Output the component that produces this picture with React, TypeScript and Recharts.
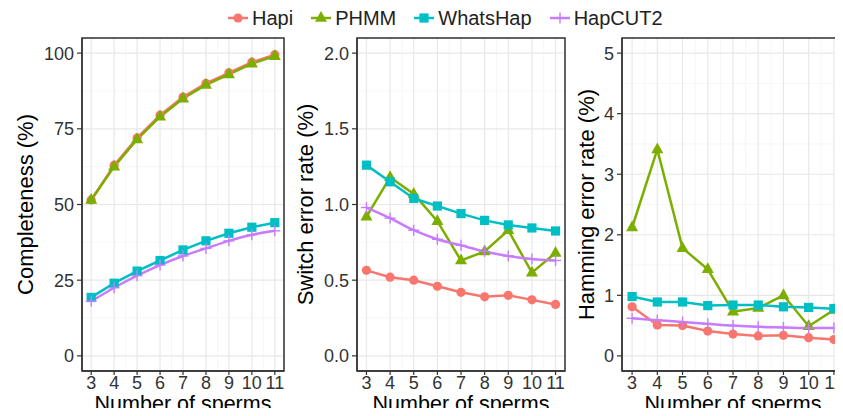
import React from "react"
import {
  LineChart,
  Line,
  XAxis,
  YAxis,
  CartesianGrid,
  ReferenceArea,
  Label
} from "recharts"

// number of sperms
const sperms = [3, 4, 5, 6, 7, 8, 9, 10, 11]
const minorX = [3.5, 4.5, 5.5, 6.5, 7.5, 8.5, 9.5, 10.5]

// completeness (%)
const compHapi = [51.5, 63, 72, 79.5, 85.5, 90, 93.5, 97, 99.5]
const compPhmm = [51.5, 62.5, 71.5, 79, 85, 89.5, 93, 96.5, 99]
const compWhatsHap = [19.3, 24, 28, 31.5, 35, 38, 40.5, 42.5, 44]
const compHapCut2 = [18, 22.5, 26.5, 30, 33, 35.5, 38, 40, 41.3]

// switch error rate (%)
const swHapi = [0.565, 0.52, 0.5, 0.46, 0.42, 0.39, 0.4, 0.37, 0.34]
const swPhmm = [0.92, 1.18, 1.07, 0.89, 0.63, 0.69, 0.83, 0.55, 0.68]
const swWhatsHap = [1.26, 1.15, 1.04, 0.99, 0.94, 0.895, 0.865, 0.845, 0.825]
const swHapCut2 = [0.98, 0.91, 0.83, 0.77, 0.73, 0.69, 0.66, 0.64, 0.63]

// hamming error rate (%)
const hamHapi = [0.81, 0.51, 0.5, 0.41, 0.36, 0.33, 0.34, 0.3, 0.27]
const hamPhmm = [2.12, 3.41, 1.78, 1.43, 0.73, 0.79, 1.0, 0.49, 0.76]
const hamWhatsHap = [0.98, 0.89, 0.89, 0.83, 0.84, 0.84, 0.81, 0.8, 0.78]
const hamHapCut2 = [0.62, 0.59, 0.56, 0.53, 0.5, 0.48, 0.47, 0.46, 0.46]

const COLORS = {
  hapi: "#F8766D",
  phmm: "#7CAE00",
  whatshap: "#00BFC4",
  hapcut2: "#C77CFF"
}

const FONT = "'Liberation Sans', Arial, sans-serif"

function rows(a: number[], b: number[], c: number[], d: number[]) {
  return sperms.map((n, i) => ({ n, hapi: a[i], phmm: b[i], whatshap: c[i], hapcut2: d[i] }))
}

const circleDot = (p: any) =>
  p.cx == null ? null : <circle key={p.index} cx={p.cx} cy={p.cy} r={4.6} fill={COLORS.hapi} />

const triangleDot = (p: any) => {
  if (p.cx == null) return null
  const s = 12
  const d = `M${p.cx},${p.cy - s * 0.58} L${p.cx - s / 2},${p.cy + s * 0.32} L${p.cx + s / 2},${p.cy + s * 0.32} Z`
  return <path key={p.index} d={d} fill={COLORS.phmm} />
}

const squareDot = (p: any) =>
  p.cx == null ? null : (
    <rect key={p.index} x={p.cx - 4.6} y={p.cy - 4.6} width={9.2} height={9.2} fill={COLORS.whatshap} />
  )

const plusDot = (p: any) =>
  p.cx == null ? null : (
    <g key={p.index} stroke={COLORS.hapcut2} strokeWidth={1.4}>
      <line x1={p.cx - 5.5} y1={p.cy} x2={p.cx + 5.5} y2={p.cy} />
      <line x1={p.cx} y1={p.cy - 5.5} x2={p.cx} y2={p.cy + 5.5} />
    </g>
  )

type PanelProps = {
  left: number
  width: number
  axisWidth: number
  marginRight: number
  titleOffset: number
  data: any[]
  yDomain: [number, number]
  yTicks: number[]
  yMinor: number[]
  yTitle: string
  fmt?: (v: number) => string
}

function Panel(props: PanelProps) {
  const { left, width, axisWidth, marginRight, titleOffset, data, yDomain, yTicks, yMinor, yTitle, fmt } = props
  return (
    <div style={{ position: "absolute", left, top: 0 }}>
      <LineChart width={width} height={416} data={data} margin={{ top: 38, right: marginRight, bottom: 0, left: 0 }}>
        <CartesianGrid xAxisId="minor" yAxisId="minor" stroke="#f4f4f4" strokeWidth={0.8} />
        <CartesianGrid stroke="#e8e8e8" strokeWidth={1.2} />
        <XAxis xAxisId="minor" type="number" dataKey="n" domain={[2.6, 11.4]} ticks={minorX} hide allowDataOverflow />
        <YAxis yAxisId="minor" type="number" domain={yDomain} ticks={yMinor} hide allowDataOverflow />
        <XAxis
          type="number"
          dataKey="n"
          domain={[2.6, 11.4]}
          ticks={sperms}
          interval={0}
          allowDataOverflow
          height={45}
          tickSize={4}
          tickMargin={1}
          axisLine={{ stroke: "#333", strokeWidth: 1.3 }}
          tickLine={{ stroke: "#333", strokeWidth: 1.2 }}
          tick={{ fill: "#333", fontSize: 18, fontFamily: FONT }}
        >
          <Label value="Number of sperms" position="insideBottom" offset={5} fill="#000" fontSize={21.5} fontFamily={FONT} />
        </XAxis>
        <YAxis
          type="number"
          domain={yDomain}
          ticks={yTicks}
          interval={0}
          allowDataOverflow
          width={axisWidth}
          tickSize={5}
          tickMargin={3}
          tickFormatter={fmt}
          axisLine={{ stroke: "#333", strokeWidth: 1.3 }}
          tickLine={{ stroke: "#333", strokeWidth: 1.2 }}
          tick={{ fill: "#333", fontSize: 18, fontFamily: FONT }}
        >
          <Label
            value={yTitle}
            angle={-90}
            position="insideLeft"
            offset={titleOffset}
            fill="#000"
            fontSize={22}
            fontFamily={FONT}
            style={{ textAnchor: "middle" }}
          />
        </YAxis>
        <ReferenceArea x1={2.6} x2={11.4} y1={yDomain[0]} y2={yDomain[1]} fill="none" stroke="#333" strokeWidth={1.5} />
        <Line dataKey="hapi" stroke={COLORS.hapi} strokeWidth={2.5} dot={circleDot} isAnimationActive={false} />
        <Line dataKey="phmm" stroke={COLORS.phmm} strokeWidth={2.5} dot={triangleDot} isAnimationActive={false} />
        <Line dataKey="whatshap" stroke={COLORS.whatshap} strokeWidth={2.5} dot={squareDot} isAnimationActive={false} />
        <Line
          dataKey="hapcut2"
          type="monotone"
          stroke={COLORS.hapcut2}
          strokeWidth={2.5}
          dot={plusDot}
          isAnimationActive={false}
        />
      </LineChart>
    </div>
  )
}

const legendItems = [
  { name: "Hapi", color: COLORS.hapi, kind: "circle" },
  { name: "PHMM", color: COLORS.phmm, kind: "triangle" },
  { name: "WhatsHap", color: COLORS.whatshap, kind: "square" },
  { name: "HapCUT2", color: COLORS.hapcut2, kind: "plus" }
]

function LegendKey({ color, kind }: { color: string; kind: string }) {
  return (
    <svg width={20} height={16} style={{ display: "block" }}>
      <line x1={0} y1={8} x2={20} y2={8} stroke={color} strokeWidth={2.5} />
      {kind === "circle" && <circle cx={10} cy={8} r={4.6} fill={color} />}
      {kind === "triangle" && <path d="M10,1 L4,11.8 L16,11.8 Z" fill={color} />}
      {kind === "square" && <rect x={5.4} y={3.4} width={9.2} height={9.2} fill={color} />}
      {kind === "plus" && <line x1={10} y1={2.5} x2={10} y2={13.5} stroke={color} strokeWidth={1.4} />}
    </svg>
  )
}

export default function App() {
  return (
    <div
      style={{
        position: "relative",
        width: 843,
        height: 416,
        margin: -8,
        overflow: "hidden",
        background: "#fff",
        fontFamily: FONT
      }}
    >
      <Panel
        left={0}
        width={290}
        axisWidth={82}
        marginRight={6}
        titleOffset={25}
        data={rows(compHapi, compPhmm, compWhatsHap, compHapCut2)}
        yDomain={[-5, 105]}
        yTicks={[0, 25, 50, 75, 100]}
        yMinor={[12.5, 37.5, 62.5, 87.5]}
        yTitle="Completeness (%)"
      />
      <Panel
        left={284}
        width={290}
        axisWidth={73}
        marginRight={9}
        titleOffset={21}
        data={rows(swHapi, swPhmm, swWhatsHap, swHapCut2)}
        yDomain={[-0.1, 2.1]}
        yTicks={[0, 0.5, 1, 1.5, 2]}
        yMinor={[0.25, 0.75, 1.25, 1.75]}
        yTitle="Switch error rate (%)"
        fmt={(v) => v.toFixed(1)}
      />
      <Panel
        left={565}
        width={290}
        axisWidth={57}
        marginRight={11}
        titleOffset={21}
        data={rows(hamHapi, hamPhmm, hamWhatsHap, hamHapCut2)}
        yDomain={[-0.25, 5.25]}
        yTicks={[0, 1, 2, 3, 4, 5]}
        yMinor={[0.5, 1.5, 2.5, 3.5, 4.5]}
        yTitle="Hamming error rate (%)"
      />
      <div style={{ position: "absolute", top: 6, left: 228, display: "flex", alignItems: "center" }}>
        {legendItems.map((it, i) => (
          <div key={it.name} style={{ display: "flex", alignItems: "center", marginRight: i < 3 ? 18 : 0 }}>
            <LegendKey color={it.color} kind={it.kind} />
            <span style={{ fontSize: 20, color: "#222", marginLeft: 4, lineHeight: "24px" }}>{it.name}</span>
          </div>
        ))}
      </div>
    </div>
  )
}
